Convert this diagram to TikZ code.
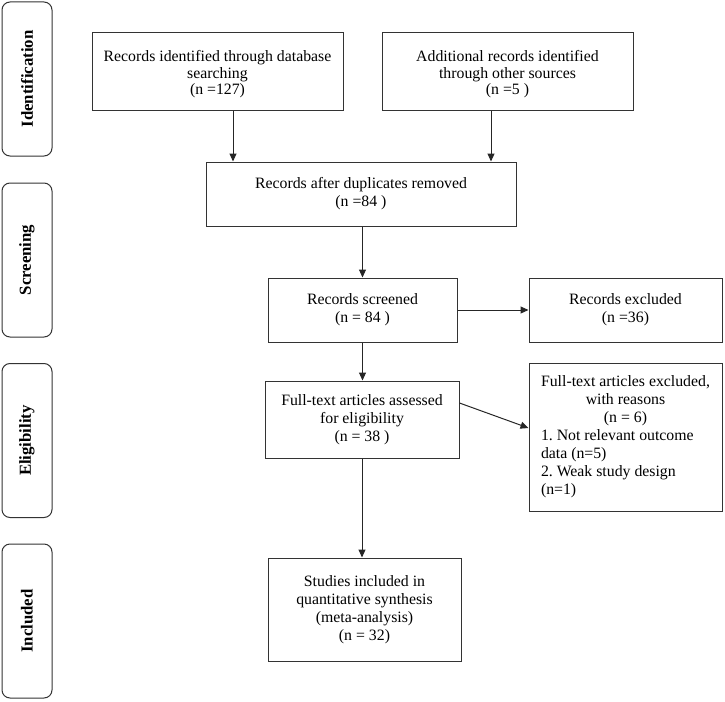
\documentclass[tikz,border=0pt]{standalone}
\usepackage{fontspec}
\setmainfont{Liberation Serif}
\usetikzlibrary{arrows.meta,calc}
\begin{document}
\frenchspacing
\begin{tikzpicture}[x=1pt,y=-1pt,
  boxline/.style={draw=black!80,line width=1pt},
  flowbox/.style={boxline,inner sep=0pt,align=center,font=\fontsize{15.8}{18}\selectfont},
  tighttext/.style={inner sep=0pt,align=center,font=\fontsize{15.8}{16.5}\selectfont},
  sidebox/.style={boxline,rounded corners=8pt,inner sep=0pt,minimum width=50pt,minimum height=154pt,font=\fontsize{16.8}{19}\selectfont\bfseries},
  arr/.style={draw=black!85,line width=1pt,-{Triangle[length=8pt,width=7pt]}}
]
\useasboundingbox (0,0) rectangle (725,701);
% side labels
\node[sidebox] (sid) at (27,79) {\rotatebox{90}{Identification}};
\node[sidebox] (sscr) at (27,260) {\rotatebox{90}{Screening}};
\node[sidebox] (selg) at (27,440.5) {\rotatebox{90}{Eligibility}};
\node[sidebox] (sinc) at (27,621) {\rotatebox{90}{Included}};
% flow boxes
\node[flowbox,minimum width=251pt,minimum height=77pt] (b1) at (217.5,71.5) {};
\node[tighttext] (t1) at ([yshift=-3pt]b1.center)
  {Records identified through database\\ searching\\ (n =127)};
\node[flowbox,minimum width=251pt,minimum height=77pt] (b2) at (507.5,71.5) {};
\node[tighttext] (t2) at ([yshift=-3pt]b2.center)
  {Additional records identified\\ through other sources\\ (n =5 )};
\node[flowbox,minimum width=310pt,minimum height=64pt] (b3) at (361,194)
  {Records after duplicates removed\\ (n =84 )};
\node[flowbox,minimum width=189pt,minimum height=64pt] (b4) at (362.5,310)
  {Records screened\\ (n = 84 )};
\node[flowbox,minimum width=193pt,minimum height=64pt] (b5) at (625.5,310)
  {Records excluded\\ (n =36)};
\node[flowbox,minimum width=194pt,minimum height=77pt] (b6) at (362,419.5)
  {Full-text articles assessed\\ for eligibility\\ (n = 38 )};
\node[boxline,inner sep=0pt,minimum width=193pt,minimum height=148pt,font=\fontsize{15.8}{18}\selectfont] (b7) at (625.5,437)
  {\parbox{181pt}{\centering Full-text articles excluded,\\ with reasons\\ (n = 6)\par
   \raggedright\leftskip=6pt
   1. Not relevant outcome\newline data (n=5)\newline 2. Weak study design\newline (n=1)\par}};
\node[flowbox,minimum width=193pt,minimum height=103pt] (b8) at (364.5,609.5)
  {Studies included in\\ quantitative synthesis\\ (meta-analysis)\\ (n = 32)};
% connectors
\coordinate (xa) at (233,0);
\coordinate (xb) at (491,0);
\draw[arr] (b1.south -| xa) -- (b3.north -| xa);
\draw[arr] (b2.south -| xb) -- (b3.north -| xb);
\draw[arr] (b3.south -| b4.north) -- (b4.north);
\draw[arr] (b4.east) -- (b5.west);
\draw[arr] (b4.south) -- (b6.north -| b4.south);
\draw[arr] ([yshift=16.5pt]b6.east) -- ([yshift=9pt]b7.west);
\draw[arr] (b6.south) -- (b8.north -| b6.south);
\end{tikzpicture}
\end{document}
